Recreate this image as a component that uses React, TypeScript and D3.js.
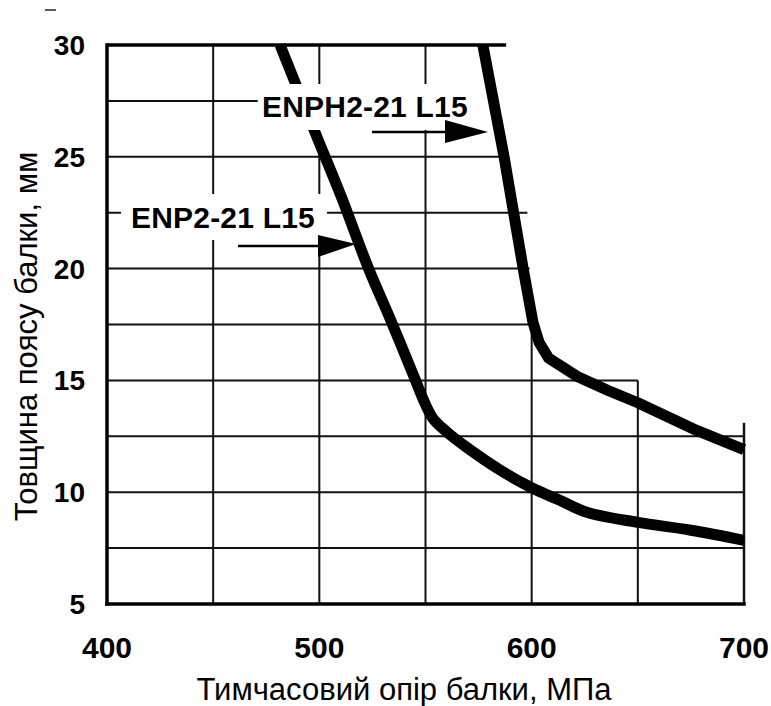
import React from "react";
import * as d3 from "d3";

// ---- data ----
const xTicks = [400, 500, 600, 700];
const yTicks = [5, 10, 15, 20, 25, 30];
const xTitle = "Тимчасовий опір балки, МПа";
const yTitle = "Товщина поясу балки, мм";

// ENPH2-21 L15 curve (MPa, mm)
const enphX = [577, 587, 596, 600.6, 603.5, 608, 622, 636, 650, 678, 700];
const enphY = [30, 25, 20, 17.6, 16.7, 16.0, 15.15, 14.55, 14.0, 12.75, 11.9];
// ENP2-21 L15 curve
const enpX = [481.5, 498.4, 510.4, 523.2, 533.6, 545.3, 548.7, 553.5, 560, 569.5, 585, 600, 613, 626, 650, 675, 700];
const enpY = [30, 26, 23.2, 20, 17.7, 15, 14.2, 13.3, 12.7, 12.0, 11.0, 10.2, 9.65, 9.1, 8.65, 8.3, 7.85];

// grid segments in data units
const hGridY = [27.5, 25, 22.5, 20, 17.5, 15, 12.5, 10, 7.5];
const hGridEnd = [471, 586, 598, 599, 599, 650, 700, 700, 700];
const vGridX = [450, 500, 500, 550, 600, 650];
const vGridFrom = [5, 5, 27.3, 5, 5, 5];
const vGridTo = [30, 25.7, 30, 30, 17.5, 15];

const labels = ["ENPH2-21 L15", "ENP2-21 L15"];

export default function App() {
  const W = 771;
  const H = 706;
  const x = d3.scaleLinear().domain([400, 700]).range([107, 744]);
  const y = d3.scaleLinear().domain([5, 30]).range([604, 45]);
  const lineLin = d3
    .line<[number, number]>()
    .x((d) => x(d[0]))
    .y((d) => y(d[1]))
    .curve(d3.curveLinear);
  const lineSmooth = d3
    .line<[number, number]>()
    .x((d) => x(d[0]))
    .y((d) => y(d[1]))
    .curve(d3.curveCatmullRom.alpha(0.5));

  const enph: [number, number][] = enphX.map((v, i) => [v, enphY[i]]);
  const enp: [number, number][] = enpX.map((v, i) => [v, enpY[i]]);
  const font = "'Liberation Sans', Arial, Helvetica, sans-serif";

  return (
    <svg
      width={W}
      height={H}
      style={{ position: "absolute", left: 0, top: 0, background: "#fff" }}
      fontFamily={font}
    >
      <rect width={W} height={H} fill="#fff" />
      {/* scan artifact dash */}
      <line x1={45} x2={56} y1={10} y2={10} stroke="#222" strokeWidth={1.5} />

      {/* grid */}
      <g stroke="#111" strokeWidth={2}>
        {hGridY.map((v, i) => (
          <line key={"h" + i} x1={x(400)} x2={x(hGridEnd[i])} y1={y(v)} y2={y(v)} />
        ))}
        {vGridX.map((v, i) => (
          <line key={"v" + i} x1={x(v)} x2={x(v)} y1={y(vGridFrom[i])} y2={y(vGridTo[i])} />
        ))}
        <line x1={x(700)} x2={x(700)} y1={y(5)} y2={y(13.1)} strokeWidth={2.5} />
      </g>
      {/* axes frame */}
      <g stroke="#000" strokeWidth={3.5} strokeLinecap="square">
        <line x1={x(400)} x2={x(400)} y1={y(5)} y2={y(30)} />
        <line x1={x(400)} x2={x(700)} y1={y(5)} y2={y(5)} />
        <line x1={x(400)} x2={x(588)} y1={y(30)} y2={y(30)} strokeLinecap="butt" />
      </g>

      {/* curves */}
      <g fill="none" stroke="#000" strokeWidth={11} strokeLinejoin="round" strokeLinecap="butt">
        <path d={lineLin(enph) || ""} />
        <path d={lineSmooth(enp) || ""} />
      </g>

      {/* label boxes */}
      <rect x={258} y={84} width={214} height={46} fill="#fff" />
      <rect x={121} y={194} width={206} height={46} fill="#fff" />

      {/* labels */}
      <g fontWeight="bold" fontSize={30} fill="#000" letterSpacing={0.2}>
        <text x={262} y={117}>{labels[0]}</text>
        <text x={131} y={228}>{labels[1]}</text>
      </g>

      {/* arrows */}
      <g stroke="#000" strokeWidth={2.5}>
        <line x1={372} x2={450} y1={132} y2={132} />
        <line x1={238} x2={322} y1={246} y2={246} />
      </g>
      <g fill="#000">
        <path d="M445,120 L488,132 L445,143 Z" />
        <path d="M318,235 L356,244 L318,257 Z" />
      </g>

      {/* y tick labels */}
      <g fontWeight="bold" fontSize={28} textAnchor="end" fill="#000">
        {yTicks.map((t) => (
          <text key={t} x={85} y={y(t) + 10}>
            {t}
          </text>
        ))}
      </g>
      {/* x tick labels */}
      <g fontWeight="bold" fontSize={30} textAnchor="middle" fill="#000">
        {xTicks.map((t) => (
          <text key={t} x={x(t)} y={658}>
            {t}
          </text>
        ))}
      </g>

      {/* titles */}
      <text x={404} y={700} fontSize={31} textAnchor="middle" fill="#000">
        {xTitle}
      </text>
      <text
        transform="translate(37,336.5) rotate(-90)"
        fontSize={31}
        textAnchor="middle"
        fill="#000"
      >
        {yTitle}
      </text>
    </svg>
  );
}
